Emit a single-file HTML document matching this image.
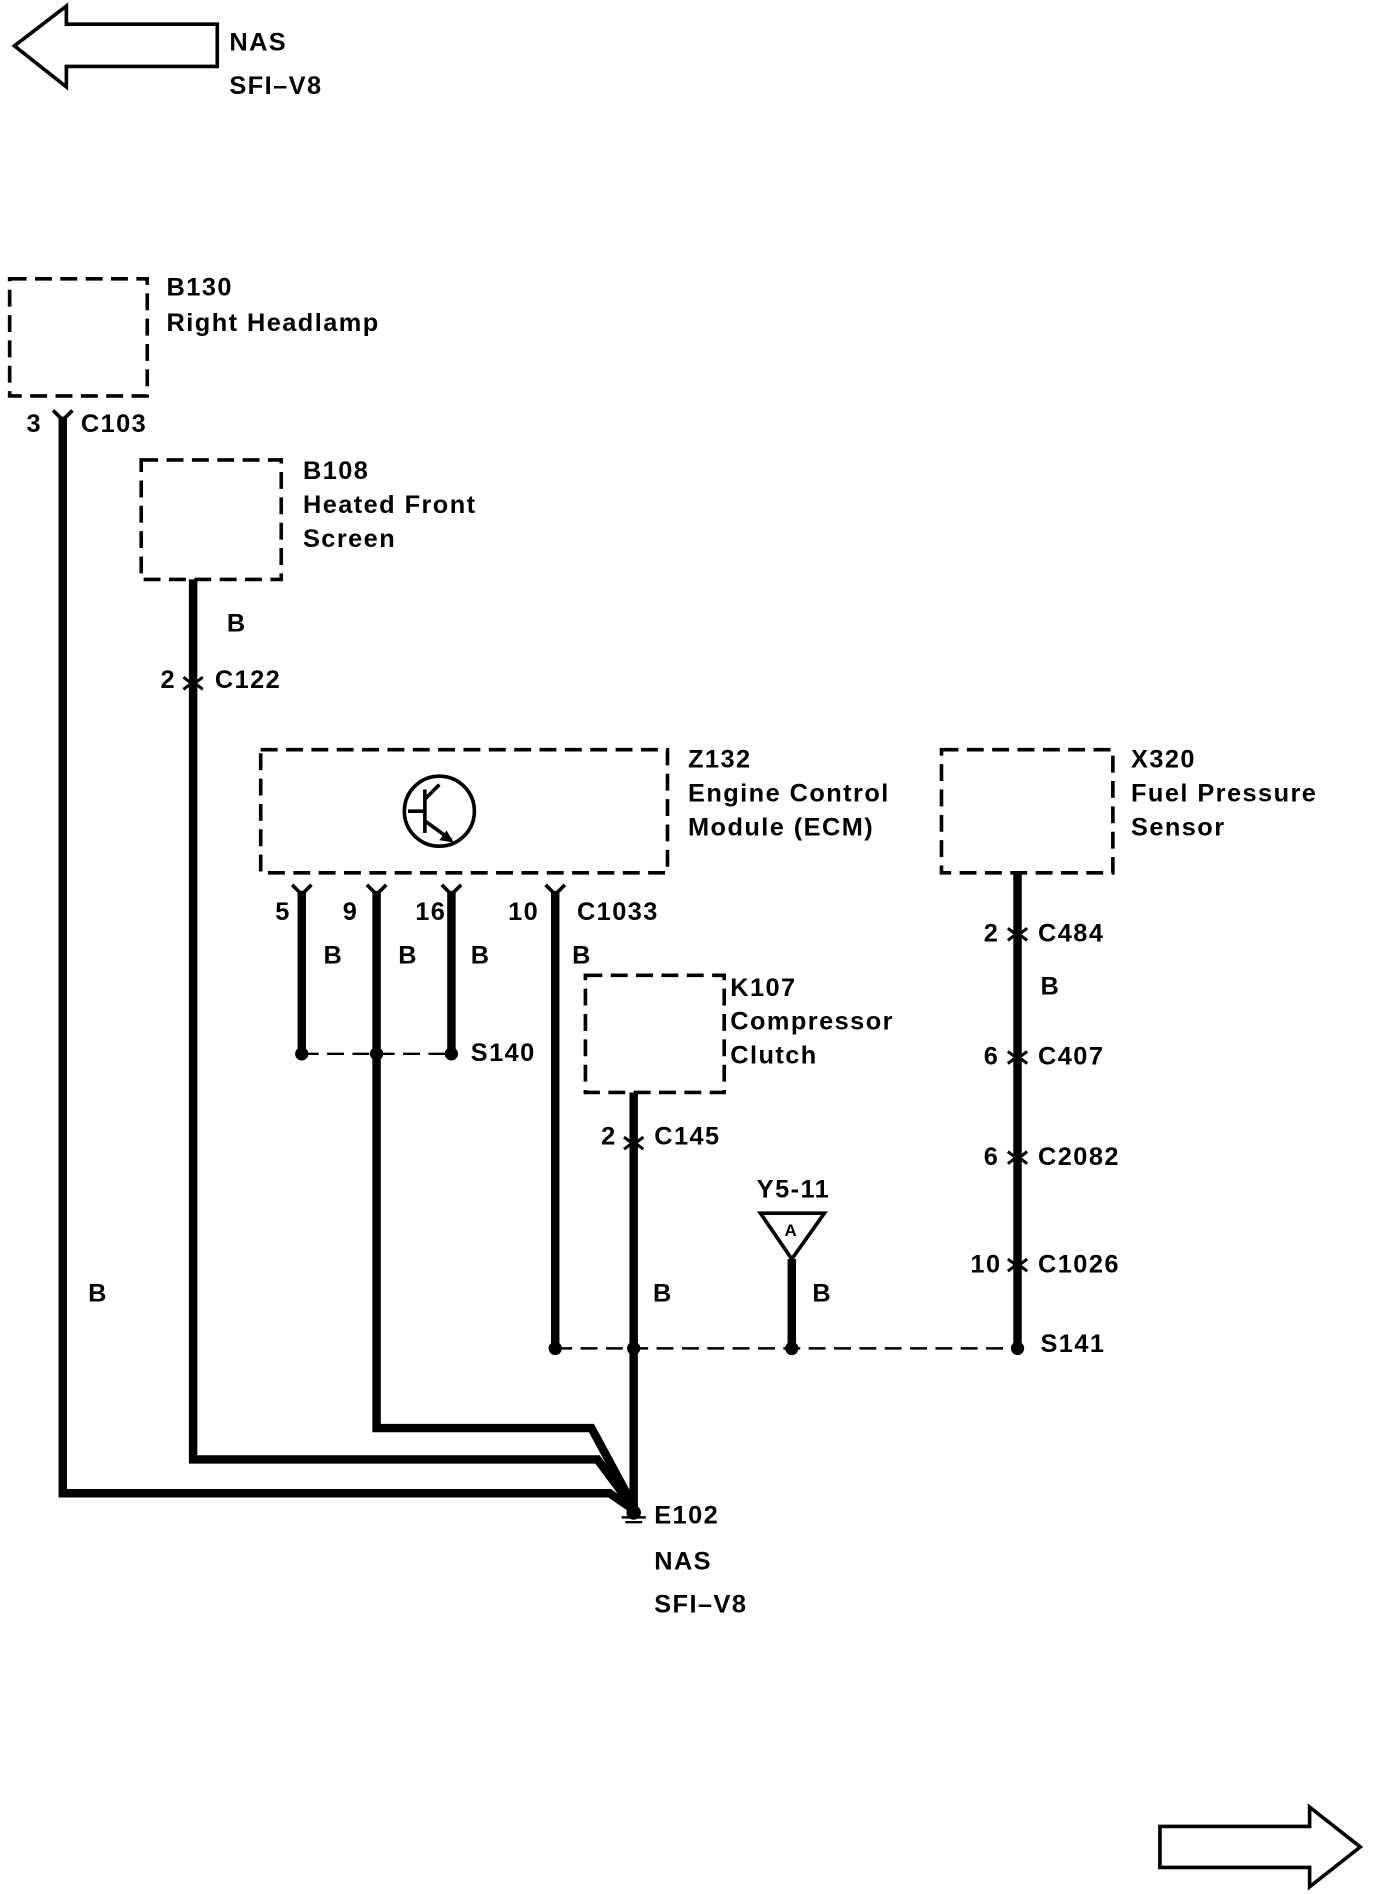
<!DOCTYPE html>
<html><head><meta charset="utf-8"><style>
html,body{margin:0;padding:0;background:#fff;}
svg{display:block;}
text{font-family:"Liberation Sans",sans-serif;font-weight:bold;font-size:21px;letter-spacing:1.2px;fill:#000;}
</style></head><body>
<svg width="1376" height="1894" viewBox="0 0 1140 1569" preserveAspectRatio="none" xmlns="http://www.w3.org/2000/svg">
<rect width="1140" height="1569" fill="#fff"/>
<polygon points="12,38 55,5 55,20 180,20 180,55 55,55 55,72" fill="#fff" stroke="#000" stroke-width="3"/>
<text x="190" y="42">NAS</text>
<text x="190" y="78">SFI–V8</text>
<polygon points="1127,1530 1085,1497 1085,1513 961,1513 961,1547 1085,1547 1085,1563" fill="#fff" stroke="#000" stroke-width="3"/>

<g fill="none" stroke="#000" stroke-width="3" stroke-dasharray="14,7">
<rect x="8" y="231" width="114" height="97"/>
<rect x="117" y="381" width="116" height="99"/>
<rect x="216" y="621" width="337" height="102"/>
<rect x="485" y="808" width="115" height="97"/>
<rect x="780" y="621" width="142" height="102"/>
</g>
<circle cx="364" cy="672" r="29" fill="none" stroke="#000" stroke-width="3"/>
<g stroke="#000" stroke-width="3" fill="none"><line x1="352" y1="654" x2="352" y2="690"/><line x1="338" y1="672" x2="352" y2="672"/><line x1="352" y1="662" x2="364" y2="650"/><line x1="352" y1="680" x2="374" y2="696"/></g>
<polygon points="376,698 364,696 370,688" fill="#000"/>

<text x="138" y="245">B130</text><text x="138" y="274">Right Headlamp</text>
<text x="251" y="397">B108</text><text x="251" y="425">Heated Front</text><text x="251" y="453">Screen</text>
<text x="570" y="636">Z132</text><text x="570" y="664">Engine Control</text><text x="570" y="692">Module (ECM)</text>
<text x="605" y="825">K107</text><text x="605" y="853">Compressor</text><text x="605" y="881">Clutch</text>
<text x="937" y="636">X320</text><text x="937" y="664">Fuel Pressure</text><text x="937" y="692">Sensor</text>

<g fill="none" stroke="#000" stroke-width="7" stroke-linejoin="miter">
<polyline points="52,345 52,1237 505,1237 524,1250"/>
<polyline points="160,480 160,1209 495,1209 524,1248"/>
<polyline points="312,738 312,1183 490,1183 524,1246"/>
<line x1="250" y1="738" x2="250" y2="873"/>
<line x1="374" y1="738" x2="374" y2="873"/>
<line x1="460" y1="738" x2="460" y2="1117"/>
<line x1="525" y1="905" x2="525" y2="1250"/>
<line x1="656" y1="1043" x2="656" y2="1117"/>
<line x1="843" y1="723" x2="843" y2="1117"/>
</g>
<g fill="none" stroke="#000" stroke-width="3">
<path d="M44,340 L52,348 L60,340"/>
<path d="M242,733 L250,741 L258,733"/><path d="M304,733 L312,741 L320,733"/><path d="M366,733 L374,741 L382,733"/><path d="M452,733 L460,741 L468,733"/>
</g>
<g fill="none" stroke="#000" stroke-width="2.5">
<path d="M152,561 l8,6 l8,-6 M152,571 l8,-6 l8,6"/>
<path d="M517,942 l8,6 l8,-6 M517,952 l8,-6 l8,6"/>
<path d="M835,769 l8,6 l8,-6 M835,779 l8,-6 l8,6"/>
<path d="M835,871 l8,6 l8,-6 M835,881 l8,-6 l8,6"/>
<path d="M835,954 l8,6 l8,-6 M835,964 l8,-6 l8,6"/>
<path d="M835,1043 l8,6 l8,-6 M835,1053 l8,-6 l8,6"/>
</g>
<text x="22" y="358">3</text><text x="67" y="358">C103</text>
<text x="188" y="523">B</text>
<text x="133" y="570">2</text><text x="178" y="570">C122</text>
<text x="228" y="762">5</text><text x="284" y="762">9</text><text x="344" y="762">16</text><text x="421" y="762">10</text><text x="478" y="762">C1033</text>
<text x="268" y="798">B</text><text x="330" y="798">B</text><text x="390" y="798">B</text><text x="474" y="798">B</text>
<text x="498" y="948">2</text><text x="542" y="948">C145</text>
<text x="541" y="1078">B</text><text x="673" y="1078">B</text><text x="73" y="1078">B</text>
<text x="627" y="992">Y5-11</text>
<polygon points="630,1005 683,1005 656,1043" fill="#fff" stroke="#000" stroke-width="3"/>
<text x="650" y="1024" style="font-size:14px;letter-spacing:0">A</text>
<text x="815" y="780">2</text><text x="860" y="780">C484</text>
<text x="862" y="824">B</text>
<text x="815" y="882">6</text><text x="860" y="882">C407</text>
<text x="815" y="965">6</text><text x="860" y="965">C2082</text>
<text x="804" y="1054">10</text><text x="860" y="1054">C1026</text>
<g stroke="#000" stroke-width="2" stroke-dasharray="14,7"><line x1="250" y1="873" x2="374" y2="873"/><line x1="460" y1="1117" x2="843" y2="1117"/></g>
<g fill="#000"><circle cx="250" cy="873" r="5.5"/><circle cx="312" cy="873" r="5.5"/><circle cx="374" cy="873" r="5.5"/>
<circle cx="460" cy="1117" r="5.5"/><circle cx="525" cy="1117" r="5.5"/><circle cx="656" cy="1117" r="5.5"/><circle cx="843" cy="1117" r="5.5"/></g>
<text x="390" y="879">S140</text><text x="862" y="1120">S141</text>
<circle cx="525" cy="1253" r="6" fill="#000"/>
<g stroke="#000" stroke-width="2"><line x1="515" y1="1257" x2="535" y2="1257"/><line x1="518" y1="1261" x2="532" y2="1261"/></g>
<text x="542" y="1262">E102</text><text x="542" y="1300">NAS</text><text x="542" y="1336">SFI–V8</text>
</svg>
</body></html>
